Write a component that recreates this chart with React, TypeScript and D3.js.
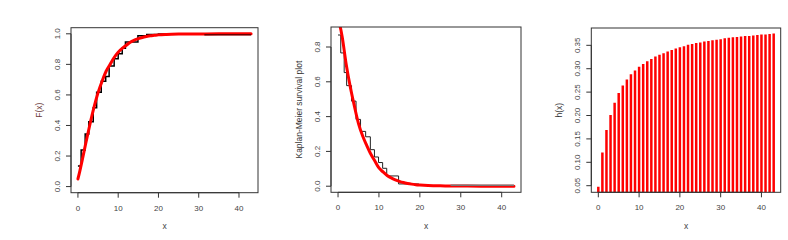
import React from "react";
import * as d3 from "d3";

// ---- data ----
const ecdfX = [0, 0.8, 1.8, 2.7, 3.8, 4.65, 5.8, 6.9, 7.75, 9, 10, 11, 11.8, 14.9, 17.1, 20, 43];
const ecdfF = [0.134, 0.24, 0.345, 0.424, 0.516, 0.617, 0.69, 0.72, 0.79, 0.837, 0.87, 0.905, 0.947, 0.987, 0.995, 0.998, 0.998];

const fitX = [0, 0.5, 1, 2, 3, 4, 5, 6, 7, 8, 9, 10, 11, 12, 13, 14, 15, 16, 17, 18, 19, 20, 22, 25, 30, 35, 43];
const fitF = [0.05, 0.105, 0.165, 0.29, 0.41, 0.52, 0.615, 0.69, 0.755, 0.80, 0.845, 0.88, 0.905, 0.925, 0.945, 0.958, 0.968, 0.976, 0.982, 0.987, 0.99, 0.993, 0.996, 0.998, 0.999, 1.0, 1.0];
const fitS = [0.96, 0.92, 0.86, 0.70, 0.57, 0.46, 0.36, 0.29, 0.235, 0.185, 0.145, 0.105, 0.082, 0.062, 0.048, 0.037, 0.028, 0.021, 0.016, 0.012, 0.009, 0.007, 0.004, 0.002, 0.001, 0, 0];

const kmX = [0, 0.66, 1.5, 2.1, 3.3, 4.4, 5.5, 6.75, 7.9, 8.9, 9.9, 10.9, 11.9, 14.8, 19.75, 43];
const kmS = [0.869, 0.766, 0.653, 0.578, 0.489, 0.384, 0.315, 0.284, 0.21, 0.168, 0.136, 0.103, 0.059, 0.013, 0.004, 0.004];

const hazX = d3.range(0, 44);
const hazH = [0.048, 0.121, 0.169, 0.201, 0.227, 0.248, 0.264, 0.277, 0.288, 0.296, 0.304, 0.310, 0.316, 0.321, 0.326, 0.330, 0.333, 0.337, 0.340, 0.343, 0.346, 0.348, 0.351, 0.353, 0.355, 0.356, 0.358, 0.359, 0.361, 0.362, 0.363, 0.365, 0.366, 0.367, 0.368, 0.369, 0.370, 0.370, 0.371, 0.372, 0.373, 0.373, 0.374, 0.375];

const xTicks = [0, 10, 20, 30, 40];
const yTicks1 = [0, 0.2, 0.4, 0.6, 0.8, 1.0];
const yTicks2 = [0, 0.2, 0.4, 0.6, 0.8];
const yTicks3 = [0.05, 0.1, 0.15, 0.2, 0.25, 0.3, 0.35];

const FONT = "'Liberation Sans', Arial, sans-serif";
const AX = "#333";
const TXT = "#444";

type Box = { x0: number; x1: number; y0: number; y1: number };

function Frame({ box, xs, ys, yTicks, fmt, ylab, id, children }: any) {
  const b: Box = box;
  return (
    <g>
      <defs>
        <clipPath id={id}>
          <rect x={b.x0} y={b.y0} width={b.x1 - b.x0} height={b.y1 - b.y0} />
        </clipPath>
      </defs>
      <g clipPath={`url(#${id})`}>{children}</g>
      <rect x={b.x0} y={b.y0} width={b.x1 - b.x0} height={b.y1 - b.y0} fill="none" stroke={AX} strokeWidth={1} />
      <line x1={xs(xTicks[0])} x2={xs(xTicks[xTicks.length - 1])} y1={b.y1} y2={b.y1} stroke={AX} />
      {xTicks.map((t) => (
        <g key={"x" + t}>
          <line x1={xs(t)} x2={xs(t)} y1={b.y1} y2={b.y1 + 5} stroke={AX} />
          <text x={xs(t)} y={b.y1 + 18} textAnchor="middle" fontSize={8} fill={TXT} fontFamily={FONT}>{t}</text>
        </g>
      ))}
      <text x={(b.x0 + b.x1) / 2} y={229} textAnchor="middle" fontSize={8.5} fill={TXT} fontFamily={FONT}>x</text>
      <line x1={b.x0} x2={b.x0} y1={ys(yTicks[0])} y2={ys(yTicks[yTicks.length - 1])} stroke={AX} />
      {yTicks.map((t: number) => (
        <g key={"y" + t}>
          <line x1={b.x0 - 5} x2={b.x0} y1={ys(t)} y2={ys(t)} stroke={AX} />
          <text transform={`translate(${b.x0 - 11},${ys(t)}) rotate(-90)`} textAnchor="middle" fontSize={8} fill={TXT} fontFamily={FONT}>{fmt(t)}</text>
        </g>
      ))}
      <text transform={`translate(${b.x0 - 29},${(b.y0 + b.y1) / 2}) rotate(-90)`} textAnchor="middle" fontSize={8.5} fill={ylab.color} fontFamily={FONT}>{ylab.text}</text>
    </g>
  );
}

export default function App() {
  const b1: Box = { x0: 71, x1: 258, y0: 27.7, y1: 192.7 };
  const b2: Box = { x0: 331, x1: 521, y0: 27, y1: 192.3 };
  const b3: Box = { x0: 591.3, x1: 780.7, y0: 28, y1: 192.3 };
  const xd = [-1.72, 44.72];

  const xs1 = d3.scaleLinear().domain(xd).range([b1.x0, b1.x1]);
  const ys1 = d3.scaleLinear().domain([-0.04, 1.04]).range([b1.y1, b1.y0]);
  const xs2 = d3.scaleLinear().domain(xd).range([b2.x0, b2.x1]);
  const ys2 = d3.scaleLinear().domain([-0.035, 0.915]).range([b2.y1, b2.y0]);
  const xs3 = d3.scaleLinear().domain(xd).range([b3.x0, b3.x1]);
  const ys3 = d3.scaleLinear().domain([0.0359, 0.387]).range([b3.y1, b3.y0]);

  const step1 = d3.line<number>().x((_, i) => xs1(ecdfX[i])).y((d) => ys1(d)).curve(d3.curveStepAfter)(ecdfF) || "";
  const fit1 = d3.line<number>().x((_, i) => xs1(fitX[i])).y((d) => ys1(d)).curve(d3.curveMonotoneX)(fitF) || "";
  const step2 = d3.line<number>().x((_, i) => xs2(kmX[i])).y((d) => ys2(d)).curve(d3.curveStepAfter)(kmS) || "";
  const fit2 = d3.line<number>().x((_, i) => xs2(fitX[i])).y((d) => ys2(d)).curve(d3.curveMonotoneX)(fitS) || "";

  const f1 = (t: number) => t.toFixed(1);
  const f3 = (t: number) => t.toFixed(2);

  return (
    <svg width={788} height={240} style={{ position: "absolute", left: 0, top: 0, background: "#fff" }}>
      <rect x={0} y={0} width={788} height={240} fill="#fff" />
      <Frame box={b1} xs={xs1} ys={ys1} yTicks={yTicks1} fmt={f1} ylab={{ text: "F(x)", color: "#6a3b3b" }} id="c1">
        <path d={step1} fill="none" stroke="#000" strokeWidth={1.5} />
        <path d={fit1} fill="none" stroke="#ff0000" strokeWidth={3} strokeLinecap="round" />
        <line x1={xs1(31.4)} x2={xs1(43)} y1={ys1(0.994)} y2={ys1(0.994)} stroke="#6a0000" strokeWidth={1.5} />
      </Frame>
      <Frame box={b2} xs={xs2} ys={ys2} yTicks={yTicks2} fmt={f1} ylab={{ text: "Kaplan-Meier survival plot", color: "#333" }} id="c2">
        <path d={step2} fill="none" stroke="#222" strokeWidth={1} />
        <path d={fit2} fill="none" stroke="#ff0000" strokeWidth={3} strokeLinecap="round" />
        <line x1={xs2(27.5)} x2={xs2(43)} y1={ys2(0.006)} y2={ys2(0.006)} stroke="#777" strokeWidth={1.5} />
      </Frame>
      <Frame box={b3} xs={xs3} ys={ys3} yTicks={yTicks3} fmt={f3} ylab={{ text: "h(x)", color: "#333" }} id="c3">
        {hazH.map((h, i) => (
          <line key={i} x1={xs3(hazX[i])} x2={xs3(hazX[i])} y1={ys3(0)} y2={ys3(h)} stroke="#ff0000" strokeWidth={2.5} />
        ))}
      </Frame>
    </svg>
  );
}
